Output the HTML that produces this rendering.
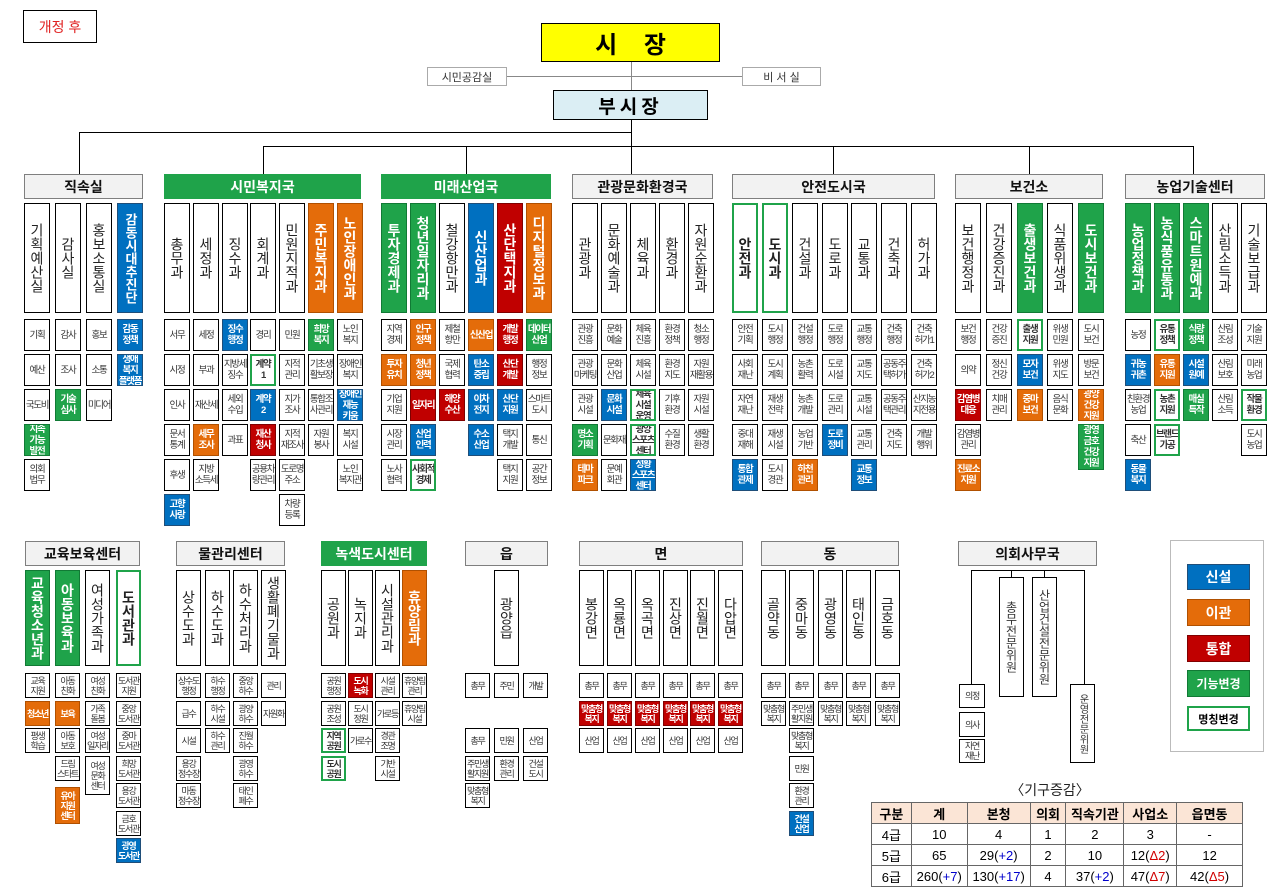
<!DOCTYPE html>
<html><head><meta charset="utf-8"><style>
body{margin:0;width:1271px;height:894px;position:relative;background:#fff;font-family:"Liberation Sans","Noto Sans CJK KR",sans-serif;overflow:hidden}
.a{position:absolute;box-sizing:border-box;border:1px solid #000;background:#fff;display:flex;align-items:center;justify-content:center;text-align:center;color:#333}
.s{width:26px;height:32px;font-size:9.5px;line-height:11px;letter-spacing:-1.3px;white-space:nowrap;overflow:hidden}
.t{width:25px;height:25px;font-size:9px;line-height:10px;letter-spacing:-1.3px;white-space:nowrap;overflow:hidden}
.c{width:26px;height:110px;top:203px;writing-mode:vertical-rl;text-orientation:upright;font-size:14px;line-height:14px;color:#222}
.d{width:25px;height:96px;top:570px;writing-mode:vertical-rl;text-orientation:upright;font-size:14px;line-height:14px;color:#222}
.h{height:25px;top:174px;background:#f2f2f2;border:1px solid #7f7f7f;font-weight:bold;font-size:14px;color:#111}
.hb{top:541px}
.hg{background:#1fa34a;color:#fff;border-color:#1fa34a}
.B{background:#0070c0;color:#fff;font-weight:bold;border-color:#1f4e79}
.O{background:#e46c0a;color:#fff;font-weight:bold;border-color:#b05000}
.R{background:#c00000;color:#fff;font-weight:bold;border-color:#800000}
.G{background:#1fa34a;color:#fff;font-weight:bold;border-color:#117a35}
.N{border:2px solid #1fa34a;font-weight:bold}
.r1{top:319px}.r2{top:354px}.r3{top:389px}.r4{top:424px}.r5{top:459px}.r6{top:494px}
.q1{top:673px}.q2{top:701px}.q3{top:728px}.q4{top:756px}.q5{top:783px}.q6{top:811px}.q7{top:838px}
.l{position:absolute;background:#000}
table{position:absolute;left:871px;top:802px;width:372px;border-collapse:collapse;font-size:13px}
td{border:1px solid #666;text-align:center;height:20px;padding:0}
tr.h1 td{background:#fbe5d6;font-weight:bold}
.p{color:#0000cc}.m{color:#d00000}
</style></head><body>

<div class="a" style="left:23px;top:10px;width:74px;height:33px;color:#e02020;font-size:14px">개정 후</div>
<div class="a" style="left:541px;top:23px;width:179px;height:39px;background:#ffff00;font-size:24px;font-weight:bold;color:#000;word-spacing:20px">시 장</div>
<div class="a" style="left:427px;top:67px;width:80px;height:19px;border-color:#aaa;font-size:11px">시민공감실</div>
<div class="a" style="left:742px;top:67px;width:79px;height:19px;border-color:#aaa;font-size:11px">비 서 실</div>
<div class="l" style="left:507px;top:76px;width:235px;height:1px;background:#888"></div>
<div class="l" style="left:631px;top:62px;width:1px;height:28px;background:#888"></div>
<div class="a" style="left:553px;top:90px;width:155px;height:30px;background:#dbeef4;font-size:19px;font-weight:bold;color:#000;letter-spacing:4px">부시장</div>
<div class="l" style="left:631px;top:120px;width:1px;height:26px"></div>
<div class="l" style="left:79px;top:132px;width:553px;height:1px"></div>
<div class="l" style="left:79px;top:132px;width:1px;height:42px"></div>
<div class="l" style="left:263px;top:146px;width:931px;height:1px"></div>
<div class="l" style="left:263px;top:146px;width:1px;height:28px"></div>
<div class="l" style="left:466px;top:146px;width:1px;height:28px"></div>
<div class="l" style="left:631px;top:146px;width:1px;height:28px"></div>
<div class="l" style="left:833px;top:146px;width:1px;height:28px"></div>
<div class="l" style="left:1029px;top:146px;width:1px;height:28px"></div>
<div class="l" style="left:1193px;top:146px;width:1px;height:28px"></div>

<!-- 직속실 -->
<div class="a h" style="left:24px;width:119px">직속실</div>
<div class="a c" style="left:24px">기획예산실</div>
<div class="a c" style="left:55px">감사실</div>
<div class="a c" style="left:86px">홍보소통실</div>
<div class="a c B" style="left:117px;font-size:13px">감동시대추진단</div>
<div class="a s r1" style="left:24px">기획</div><div class="a s r2" style="left:24px">예산</div><div class="a s r3" style="left:24px">국도비</div><div class="a s r4 G" style="left:24px">지속<br>가능<br>발전</div><div class="a s r5" style="left:24px">의회<br>법무</div>
<div class="a s r1" style="left:55px">감사</div><div class="a s r2" style="left:55px">조사</div><div class="a s r3 G" style="left:55px">기술<br>심사</div>
<div class="a s r1" style="left:86px">홍보</div><div class="a s r2" style="left:86px">소통</div><div class="a s r3" style="left:86px">미디어</div>
<div class="a s r1 B" style="left:117px">감동<br>정책</div><div class="a s r2 B" style="left:117px">생애<br>복지<br>플랫폼</div>

<!-- 시민복지국 -->
<div class="a h hg" style="left:164px;width:197px">시민복지국</div>
<div class="a c" style="left:164px">총무과</div><div class="a c" style="left:193px">세정과</div><div class="a c" style="left:222px">징수과</div><div class="a c" style="left:250px">회계과</div><div class="a c" style="left:279px">민원지적과</div><div class="a c O" style="left:308px">주민복지과</div><div class="a c O" style="left:337px">노인장애인과</div>
<div class="a s r1" style="left:164px">서무</div><div class="a s r2" style="left:164px">시정</div><div class="a s r3" style="left:164px">인사</div><div class="a s r4" style="left:164px">문서<br>통계</div><div class="a s r5" style="left:164px">후생</div><div class="a s r6 B" style="left:164px">고향<br>사랑</div>
<div class="a s r1" style="left:193px">세정</div><div class="a s r2" style="left:193px">부과</div><div class="a s r3" style="left:193px">재산세</div><div class="a s r4 O" style="left:193px">세무<br>조사</div><div class="a s r5" style="left:193px">지방<br>소득세</div>
<div class="a s r1 B" style="left:222px">징수<br>행정</div><div class="a s r2" style="left:222px">지방세<br>징수</div><div class="a s r3" style="left:222px">세외<br>수입</div><div class="a s r4" style="left:222px">과표</div>
<div class="a s r1" style="left:250px">경리</div><div class="a s r2 N" style="left:250px">계약<br>1</div><div class="a s r3 B" style="left:250px">계약<br>2</div><div class="a s r4 R" style="left:250px">재산<br>청사</div><div class="a s r5" style="left:250px">공용차<br>량관리</div>
<div class="a s r1" style="left:279px">민원</div><div class="a s r2" style="left:279px">지적<br>관리</div><div class="a s r3" style="left:279px">지가<br>조사</div><div class="a s r4" style="left:279px">지적<br>재조사</div><div class="a s r5" style="left:279px">도로명<br>주소</div><div class="a s r6" style="left:279px">차량<br>등록</div>
<div class="a s r1 G" style="left:308px">희망<br>복지</div><div class="a s r2" style="left:308px">기초생<br>활보장</div><div class="a s r3" style="left:308px">통합조<br>사관리</div><div class="a s r4" style="left:308px">자원<br>봉사</div>
<div class="a s r1" style="left:337px">노인<br>복지</div><div class="a s r2" style="left:337px">장애인<br>복지</div><div class="a s r3 B" style="left:337px">장애인<br>재능<br>키움</div><div class="a s r4" style="left:337px">복지<br>시설</div><div class="a s r5" style="left:337px">노인<br>복지관</div>

<!-- 미래산업국 -->
<div class="a h hg" style="left:381px;width:170px">미래산업국</div>
<div class="a c G" style="left:381px">투자경제과</div><div class="a c G" style="left:410px">청년일자리과</div><div class="a c" style="left:439px">철강항만과</div><div class="a c B" style="left:468px">신산업과</div><div class="a c R" style="left:497px">산단택지과</div><div class="a c O" style="left:526px">디지털정보과</div>
<div class="a s r1" style="left:381px">지역<br>경제</div><div class="a s r2 O" style="left:381px">투자<br>유치</div><div class="a s r3" style="left:381px">기업<br>지원</div><div class="a s r4" style="left:381px">시장<br>관리</div><div class="a s r5" style="left:381px">노사<br>협력</div>
<div class="a s r1 O" style="left:410px">인구<br>정책</div><div class="a s r2 O" style="left:410px">청년<br>정책</div><div class="a s r3 R" style="left:410px">일자리</div><div class="a s r4 B" style="left:410px">산업<br>인력</div><div class="a s r5 N" style="left:410px">사회적<br>경제</div>
<div class="a s r1" style="left:439px">제철<br>항만</div><div class="a s r2" style="left:439px">국제<br>협력</div><div class="a s r3 R" style="left:439px">해양<br>수산</div>
<div class="a s r1 O" style="left:468px">신산업</div><div class="a s r2 B" style="left:468px">탄소<br>중립</div><div class="a s r3 B" style="left:468px">이차<br>전지</div><div class="a s r4 B" style="left:468px">수소<br>산업</div>
<div class="a s r1 R" style="left:497px">개발<br>행정</div><div class="a s r2 R" style="left:497px">산단<br>개발</div><div class="a s r3 B" style="left:497px">산단<br>지원</div><div class="a s r4" style="left:497px">택지<br>개발</div><div class="a s r5" style="left:497px">택지<br>지원</div>
<div class="a s r1 G" style="left:526px">데이터<br>산업</div><div class="a s r2" style="left:526px">행정<br>정보</div><div class="a s r3" style="left:526px">스마트<br>도시</div><div class="a s r4" style="left:526px">통신</div><div class="a s r5" style="left:526px">공간<br>정보</div>

<!-- 관광문화환경국 -->
<div class="a h" style="left:572px;width:141px">관광문화환경국</div>
<div class="a c" style="left:572px">관광과</div><div class="a c" style="left:601px">문화예술과</div><div class="a c" style="left:630px">체육과</div><div class="a c" style="left:659px">환경과</div><div class="a c" style="left:688px">자원순환과</div>
<div class="a s r1" style="left:572px">관광<br>진흥</div><div class="a s r2" style="left:572px">관광<br>마케팅</div><div class="a s r3" style="left:572px">관광<br>시설</div><div class="a s r4 G" style="left:572px">명소<br>기획</div><div class="a s r5 O" style="left:572px">테마<br>파크</div>
<div class="a s r1" style="left:601px">문화<br>예술</div><div class="a s r2" style="left:601px">문화<br>산업</div><div class="a s r3 B" style="left:601px">문화<br>시설</div><div class="a s r4" style="left:601px">문화재</div><div class="a s r5" style="left:601px">문예<br>회관</div>
<div class="a s r1" style="left:630px">체육<br>진흥</div><div class="a s r2" style="left:630px">체육<br>시설</div><div class="a s r3 N" style="left:630px">체육<br>시설<br>운영</div><div class="a s r4 N" style="left:630px">광양<br>스포츠<br>센터</div><div class="a s r5 B" style="left:630px">성황<br>스포츠<br>센터</div>
<div class="a s r1" style="left:659px">환경<br>정책</div><div class="a s r2" style="left:659px">환경<br>지도</div><div class="a s r3" style="left:659px">기후<br>환경</div><div class="a s r4" style="left:659px">수질<br>환경</div>
<div class="a s r1" style="left:688px">청소<br>행정</div><div class="a s r2" style="left:688px">자원<br>재활용</div><div class="a s r3" style="left:688px">자원<br>시설</div><div class="a s r4" style="left:688px">생활<br>환경</div>

<!-- 안전도시국 -->
<div class="a h" style="left:732px;width:203px">안전도시국</div>
<div class="a c N" style="left:732px">안전과</div><div class="a c N" style="left:762px">도시과</div><div class="a c" style="left:792px">건설과</div><div class="a c" style="left:822px">도로과</div><div class="a c" style="left:851px">교통과</div><div class="a c" style="left:881px">건축과</div><div class="a c" style="left:911px">허가과</div>
<div class="a s r1" style="left:732px">안전<br>기획</div><div class="a s r2" style="left:732px">사회<br>재난</div><div class="a s r3" style="left:732px">자연<br>재난</div><div class="a s r4" style="left:732px">중대<br>재해</div><div class="a s r5 B" style="left:732px">통합<br>관제</div>
<div class="a s r1" style="left:762px">도시<br>행정</div><div class="a s r2" style="left:762px">도시<br>계획</div><div class="a s r3" style="left:762px">재생<br>전략</div><div class="a s r4" style="left:762px">재생<br>시설</div><div class="a s r5" style="left:762px">도시<br>경관</div>
<div class="a s r1" style="left:792px">건설<br>행정</div><div class="a s r2" style="left:792px">농촌<br>활력</div><div class="a s r3" style="left:792px">농촌<br>개발</div><div class="a s r4" style="left:792px">농업<br>기반</div><div class="a s r5 O" style="left:792px">하천<br>관리</div>
<div class="a s r1" style="left:822px">도로<br>행정</div><div class="a s r2" style="left:822px">도로<br>시설</div><div class="a s r3" style="left:822px">도로<br>관리</div><div class="a s r4 B" style="left:822px">도로<br>정비</div>
<div class="a s r1" style="left:851px">교통<br>행정</div><div class="a s r2" style="left:851px">교통<br>지도</div><div class="a s r3" style="left:851px">교통<br>시설</div><div class="a s r4" style="left:851px">교통<br>관리</div><div class="a s r5 B" style="left:851px">교통<br>정보</div>
<div class="a s r1" style="left:881px">건축<br>행정</div><div class="a s r2" style="left:881px">공동주<br>택허가</div><div class="a s r3" style="left:881px">공동주<br>택관리</div><div class="a s r4" style="left:881px">건축<br>지도</div>
<div class="a s r1" style="left:911px">건축<br>허가1</div><div class="a s r2" style="left:911px">건축<br>허가2</div><div class="a s r3" style="left:911px">산지농<br>지전용</div><div class="a s r4" style="left:911px">개발<br>행위</div>

<!-- 보건소 -->
<div class="a h" style="left:955px;width:148px">보건소</div>
<div class="a c" style="left:955px">보건행정과</div><div class="a c" style="left:986px">건강증진과</div><div class="a c G" style="left:1017px">출생보건과</div><div class="a c" style="left:1047px">식품위생과</div><div class="a c G" style="left:1078px">도시보건과</div>
<div class="a s r1" style="left:955px">보건<br>행정</div><div class="a s r2" style="left:955px">의약</div><div class="a s r3 R" style="left:955px">감염병<br>대응</div><div class="a s r4" style="left:955px">감염병<br>관리</div><div class="a s r5 O" style="left:955px">진료소<br>지원</div>
<div class="a s r1" style="left:986px">건강<br>증진</div><div class="a s r2" style="left:986px">정신<br>건강</div><div class="a s r3" style="left:986px">치매<br>관리</div>
<div class="a s r1 N" style="left:1017px">출생<br>지원</div><div class="a s r2 B" style="left:1017px">모자<br>보건</div><div class="a s r3 O" style="left:1017px">중마<br>보건</div>
<div class="a s r1" style="left:1047px">위생<br>민원</div><div class="a s r2" style="left:1047px">위생<br>지도</div><div class="a s r3" style="left:1047px">음식<br>문화</div>
<div class="a s r1" style="left:1078px">도시<br>보건</div><div class="a s r2" style="left:1078px">방문<br>보건</div><div class="a s r3 O" style="left:1078px">광양<br>건강<br>지원</div><div class="a s G" style="left:1078px;top:424px;height:46px">광영<br>금호<br>건강<br>지원</div>

<!-- 농업기술센터 -->
<div class="a h" style="left:1125px;width:140px">농업기술센터</div>
<div class="a c G" style="left:1125px">농업정책과</div><div class="a c G" style="left:1154px">농식품유통과</div><div class="a c G" style="left:1183px">스마트원예과</div><div class="a c" style="left:1212px">산림소득과</div><div class="a c" style="left:1241px">기술보급과</div>
<div class="a s r1" style="left:1125px">농정</div><div class="a s r2 B" style="left:1125px">귀농<br>귀촌</div><div class="a s r3" style="left:1125px">친환경<br>농업</div><div class="a s r4" style="left:1125px">축산</div><div class="a s r5 B" style="left:1125px">동물<br>복지</div>
<div class="a s r1 N" style="left:1154px">유통<br>정책</div><div class="a s r2 O" style="left:1154px">유통<br>지원</div><div class="a s r3 N" style="left:1154px">농촌<br>지원</div><div class="a s r4 N" style="left:1154px">브랜드<br>가공</div>
<div class="a s r1 G" style="left:1183px">식량<br>정책</div><div class="a s r2 B" style="left:1183px">시설<br>원예</div><div class="a s r3 G" style="left:1183px">매실<br>특작</div>
<div class="a s r1" style="left:1212px">산림<br>조성</div><div class="a s r2" style="left:1212px">산림<br>보호</div><div class="a s r3" style="left:1212px">산림<br>소득</div>
<div class="a s r1" style="left:1241px">기술<br>지원</div><div class="a s r2" style="left:1241px">미래<br>농업</div><div class="a s r3 N" style="left:1241px">작물<br>환경</div><div class="a s r4" style="left:1241px">도시<br>농업</div>

<!-- 교육보육센터 -->
<div class="a h hb" style="left:25px;width:115px">교육보육센터</div>
<div class="a d G" style="left:25px">교육청소년과</div><div class="a d G" style="left:55px">아동보육과</div><div class="a d" style="left:85px">여성가족과</div><div class="a d N" style="left:116px">도서관과</div>
<div class="a t q1" style="left:25px">교육<br>지원</div><div class="a t q2 O" style="left:25px">청소년</div><div class="a t q3" style="left:25px">평생<br>학습</div>
<div class="a t q1" style="left:55px">아동<br>친화</div><div class="a t q2 O" style="left:55px">보육</div><div class="a t q3" style="left:55px">아동<br>보호</div><div class="a t q4" style="left:55px">드림<br>스타트</div><div class="a t O" style="left:55px;top:787px;height:37px">유아<br>지원<br>센터</div>
<div class="a t q1" style="left:85px">여성<br>친화</div><div class="a t q2" style="left:85px">가족<br>돌봄</div><div class="a t q3" style="left:85px">여성<br>일자리</div><div class="a t" style="left:85px;top:756px;height:39px">여성<br>문화<br>센터</div>
<div class="a t q1" style="left:116px">도서관<br>지원</div><div class="a t q2" style="left:116px">중앙<br>도서관</div><div class="a t q3" style="left:116px">중마<br>도서관</div><div class="a t q4" style="left:116px">희망<br>도서관</div><div class="a t q5" style="left:116px">용강<br>도서관</div><div class="a t q6" style="left:116px">금호<br>도서관</div><div class="a t q7 B" style="left:116px">광영<br>도서관</div>

<!-- 물관리센터 -->
<div class="a h hb" style="left:176px;width:109px">물관리센터</div>
<div class="a d" style="left:176px">상수도과</div><div class="a d" style="left:205px">하수도과</div><div class="a d" style="left:233px">하수처리과</div><div class="a d" style="left:261px">생활폐기물과</div>
<div class="a t q1" style="left:176px">상수도<br>행정</div><div class="a t q2" style="left:176px">급수</div><div class="a t q3" style="left:176px">시설</div><div class="a t q4" style="left:176px">용강<br>정수장</div><div class="a t q5" style="left:176px">마동<br>정수장</div>
<div class="a t q1" style="left:205px">하수<br>행정</div><div class="a t q2" style="left:205px">하수<br>시설</div><div class="a t q3" style="left:205px">하수<br>관리</div>
<div class="a t q1" style="left:233px">중앙<br>하수</div><div class="a t q2" style="left:233px">광양<br>하수</div><div class="a t q3" style="left:233px">진월<br>하수</div><div class="a t q4" style="left:233px">광영<br>하수</div><div class="a t q5" style="left:233px">태인<br>폐수</div>
<div class="a t q1" style="left:261px">관리</div><div class="a t q2" style="left:261px">자원화</div>

<!-- 녹색도시센터 -->
<div class="a h hb hg" style="left:321px;width:106px">녹색도시센터</div>
<div class="a d" style="left:321px">공원과</div><div class="a d" style="left:348px">녹지과</div><div class="a d" style="left:375px">시설관리과</div><div class="a d O" style="left:402px">휴양림과</div>
<div class="a t q1" style="left:321px">공원<br>행정</div><div class="a t q2" style="left:321px">공원<br>조성</div><div class="a t q3 N" style="left:321px">지역<br>공원</div><div class="a t q4 N" style="left:321px">도시<br>공원</div>
<div class="a t q1 R" style="left:348px">도시<br>녹화</div><div class="a t q2" style="left:348px">도시<br>정원</div><div class="a t q3" style="left:348px">가로수</div>
<div class="a t q1" style="left:375px">시설<br>관리</div><div class="a t q2" style="left:375px">가로등</div><div class="a t q3" style="left:375px">경관<br>조명</div><div class="a t q4" style="left:375px">기반<br>시설</div>
<div class="a t q1" style="left:402px">휴양림<br>관리</div><div class="a t q2" style="left:402px">휴양림<br>시설</div>

<!-- 읍 -->
<div class="a h hb" style="left:465px;width:83px">읍</div>
<div class="a d" style="left:494px">광양읍</div>
<div class="a t q1" style="left:465px">총무</div><div class="a t q1" style="left:494px">주민</div><div class="a t q1" style="left:523px">개발</div>
<div class="a t q3" style="left:465px">총무</div><div class="a t q3" style="left:494px">민원</div><div class="a t q3" style="left:523px">산업</div>
<div class="a t q4" style="left:465px">주민생<br>활지원</div><div class="a t q4" style="left:494px">환경<br>관리</div><div class="a t q4" style="left:523px">건설<br>도시</div>
<div class="a t q5" style="left:465px">맞춤형<br>복지</div>

<!-- 면 -->
<div class="a h hb" style="left:579px;width:164px">면</div>
<div class="a d" style="left:579px">봉강면</div><div class="a d" style="left:607px">옥룡면</div><div class="a d" style="left:635px">옥곡면</div><div class="a d" style="left:663px">진상면</div><div class="a d" style="left:690px">진월면</div><div class="a d" style="left:718px">다압면</div>
<div class="a t q1" style="left:579px">총무</div><div class="a t q1" style="left:607px">총무</div><div class="a t q1" style="left:635px">총무</div><div class="a t q1" style="left:663px">총무</div><div class="a t q1" style="left:690px">총무</div><div class="a t q1" style="left:718px">총무</div>
<div class="a t q2 R" style="left:579px">맞춤형<br>복지</div><div class="a t q2 R" style="left:607px">맞춤형<br>복지</div><div class="a t q2 R" style="left:635px">맞춤형<br>복지</div><div class="a t q2 R" style="left:663px">맞춤형<br>복지</div><div class="a t q2 R" style="left:690px">맞춤형<br>복지</div><div class="a t q2 R" style="left:718px">맞춤형<br>복지</div>
<div class="a t q3" style="left:579px">산업</div><div class="a t q3" style="left:607px">산업</div><div class="a t q3" style="left:635px">산업</div><div class="a t q3" style="left:663px">산업</div><div class="a t q3" style="left:690px">산업</div><div class="a t q3" style="left:718px">산업</div>

<!-- 동 -->
<div class="a h hb" style="left:761px;width:138px">동</div>
<div class="a d" style="left:761px">골약동</div><div class="a d" style="left:789px">중마동</div><div class="a d" style="left:818px">광영동</div><div class="a d" style="left:846px">태인동</div><div class="a d" style="left:875px">금호동</div>
<div class="a t q1" style="left:761px">총무</div><div class="a t q1" style="left:789px">총무</div><div class="a t q1" style="left:818px">총무</div><div class="a t q1" style="left:846px">총무</div><div class="a t q1" style="left:875px">총무</div>
<div class="a t q2" style="left:761px">맞춤형<br>복지</div><div class="a t q2" style="left:789px">주민생<br>활지원</div><div class="a t q2" style="left:818px">맞춤형<br>복지</div><div class="a t q2" style="left:846px">맞춤형<br>복지</div><div class="a t q2" style="left:875px">맞춤형<br>복지</div>
<div class="a t q3" style="left:789px">맞춤형<br>복지</div><div class="a t q4" style="left:789px">민원</div><div class="a t q5" style="left:789px">환경<br>관리</div><div class="a t q6 B" style="left:789px">건설<br>산업</div>

<!-- 의회사무국 -->
<div class="a h hb" style="left:958px;width:139px">의회사무국</div>
<div class="l" style="left:971px;top:570px;width:114px;height:1px"></div>
<div class="l" style="left:971px;top:570px;width:1px;height:114px"></div>
<div class="l" style="left:1084px;top:570px;width:1px;height:114px"></div>
<div class="l" style="left:1011px;top:570px;width:1px;height:7px"></div>
<div class="l" style="left:1044px;top:570px;width:1px;height:7px"></div>
<div class="a" style="left:999px;top:577px;width:25px;height:120px;writing-mode:vertical-rl;text-orientation:upright;font-size:12px">총무전문위원</div>
<div class="a" style="left:1032px;top:577px;width:25px;height:120px;writing-mode:vertical-rl;text-orientation:upright;font-size:12px">산업건설전문위원</div>
<div class="a t" style="left:959px;top:684px;width:26px;height:24px">의정</div>
<div class="a t" style="left:959px;top:712px;width:26px;height:25px">의사</div>
<div class="a t" style="left:959px;top:739px;width:26px;height:24px">자연<br>재난</div>
<div class="a" style="left:1070px;top:684px;width:25px;height:79px;writing-mode:vertical-rl;text-orientation:upright;font-size:10px">운영전문위원</div>

<!-- 범례 -->
<div class="a" style="left:1170px;top:540px;width:94px;height:212px;border-color:#bbb"></div>
<div class="a B" style="left:1187px;top:564px;width:63px;height:26px;font-size:14px">신설</div>
<div class="a O" style="left:1187px;top:599px;width:63px;height:27px;font-size:14px">이관</div>
<div class="a R" style="left:1187px;top:635px;width:63px;height:27px;font-size:14px">통합</div>
<div class="a G" style="left:1187px;top:670px;width:63px;height:27px;font-size:12px">기능변경</div>
<div class="a N" style="left:1187px;top:706px;width:63px;height:25px;font-size:11px;color:#000">명칭변경</div>

<div style="position:absolute;left:990px;top:780px;width:120px;text-align:center;font-size:14px;color:#222">〈기구증감〉</div>
<table>
<colgroup><col style="width:40px"><col style="width:56px"><col style="width:63px"><col style="width:36px"><col style="width:58px"><col style="width:53px"><col style="width:66px"></colgroup>
<tr class="h1"><td>구분</td><td>계</td><td>본청</td><td>의회</td><td>직속기관</td><td>사업소</td><td>읍면동</td></tr>
<tr><td>4급</td><td>10</td><td>4</td><td>1</td><td>2</td><td>3</td><td>-</td></tr>
<tr><td>5급</td><td>65</td><td>29(<span class="p">+2</span>)</td><td>2</td><td>10</td><td>12(<span class="m">Δ2</span>)</td><td>12</td></tr>
<tr><td>6급</td><td>260(<span class="p">+7</span>)</td><td>130(<span class="p">+17</span>)</td><td>4</td><td>37(<span class="p">+2</span>)</td><td>47(<span class="m">Δ7</span>)</td><td>42(<span class="m">Δ5</span>)</td></tr>
</table>
</body></html>
